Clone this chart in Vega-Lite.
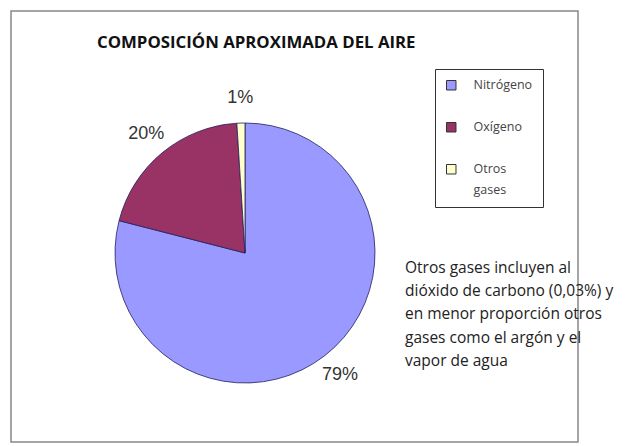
{
  "$schema": "https://vega.github.io/schema/vega-lite/v6.json",
  "width": 567,
  "height": 431,
  "autosize": {"type": "none"},
  "padding": {"left": 11, "top": 11, "right": 52, "bottom": 4},
  "background": "white",
  "title": {
    "text": "COMPOSICIÓN APROXIMADA DEL AIRE",
    "anchor": "start",
    "frame": "group",
    "font": "Open Sans",
    "fontSize": 16.8,
    "fontWeight": "bold",
    "color": "#111111",
    "baseline": "alphabetic",
    "offset": 0,
    "dx": 86,
    "dy": 54
  },
  "config": {
    "view": {"stroke": "#888888", "strokeWidth": 1.5}
  },
  "data": {
    "values": [
      {"gas": "Nitrógeno", "pct": 79, "etiqueta": "79%"},
      {"gas": "Oxígeno", "pct": 20, "etiqueta": "20%"},
      {"gas": "Otros gases", "pct": 1, "etiqueta": "1%"}
    ]
  },
  "layer": [
    {
      "mark": {"type": "arc", "radius": 130, "stroke": "#1f1f5e", "strokeWidth": 0.8},
      "encoding": {
        "theta": {"field": "pct", "type": "quantitative", "stack": true},
        "order": {"field": "pct", "sort": "descending"},
        "color": {
          "field": "gas",
          "type": "nominal",
          "scale": {
            "domain": ["Nitrógeno", "Oxígeno", "Otros gases"],
            "range": ["#9999FF", "#993366", "#FFFFCC"]
          },
          "legend": {
            "title": null,
            "orient": "none",
            "legendX": 424,
            "legendY": 58,
            "padding": 10,
            "strokeColor": "#333333",
            "symbolType": "square",
            "symbolSize": 90,
            "symbolStrokeColor": "#333333",
            "symbolStrokeWidth": 1,
            "labelFont": "Open Sans",
            "labelFontSize": 12.5,
            "labelColor": "#444444",
            "labelOffset": 16,
            "rowPadding": 28,
            "labelExpr": "datum.label == 'Otros gases' ? ['Otros', 'gases'] : datum.label",
            "encode": {"labels": {"update": {"lineHeight": {"value": 21}}}}
          }
        },
        "x": {"value": 234},
        "y": {"value": 242}
      }
    },
    {
      "mark": {"type": "text", "radius": 155, "font": "Liberation Sans", "fontSize": 18, "color": "#333333"},
      "encoding": {
        "theta": {"field": "pct", "type": "quantitative", "stack": true},
        "order": {"field": "pct", "sort": "descending"},
        "text": {"field": "etiqueta"},
        "x": {"value": 234},
        "y": {"value": 242}
      }
    },
    {
      "data": {
        "values": [
          {"nota": ["Otros gases incluyen al", "dióxido de carbono (0,03%) y", "en menor proporción otros", "gases como el argón y el", "vapor de agua"]}
        ]
      },
      "mark": {"type": "text", "align": "left", "baseline": "middle", "font": "Open Sans", "fontSize": 15.5, "lineHeight": 23.2, "color": "#222222"},
      "encoding": {
        "text": {"field": "nota"},
        "x": {"value": 394},
        "y": {"value": 257}
      }
    }
  ]
}
